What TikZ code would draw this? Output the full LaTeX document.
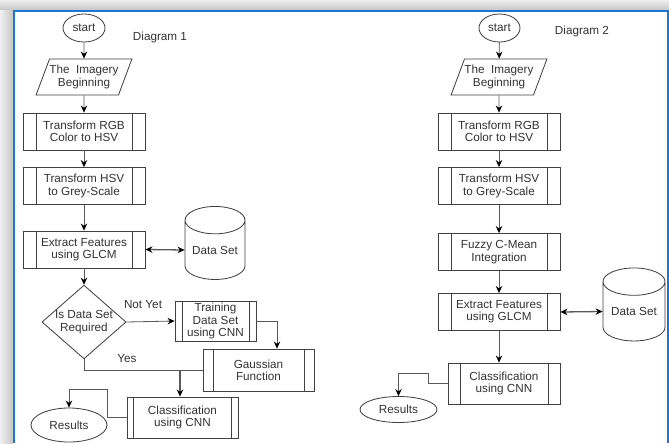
\documentclass[tikz,border=0pt]{standalone}
\usepackage{fontspec}
\setmainfont{Liberation Sans}
\usetikzlibrary{shapes.geometric, arrows.meta}
\definecolor{frameblue}{RGB}{25,118,210}
\tikzset{>={Stealth[length=6pt, width=5.5pt, color=black]}}
\tikzset{
  every node/.style={font=\fontsize{10}{10.5}\selectfont, text=black!80},
  line/.style={draw=black!65, line width=0.7pt},
  proc/.style={draw=black!75, line width=0.7pt, rectangle, align=center, inner sep=1pt,
    minimum width=3.66cm, minimum height=1.11cm,
    path picture={
      \draw[black!75, line width=0.7pt] ([xshift=#1]path picture bounding box.north west) -- ([xshift=#1]path picture bounding box.south west);
      \draw[black!75, line width=0.7pt] ([xshift=-#1]path picture bounding box.north east) -- ([xshift=-#1]path picture bounding box.south east);}},
  proc/.default=0.39cm,
  term/.style={draw=black!75, line width=0.7pt, ellipse, inner sep=0pt},
  inputbox/.style={draw=black!75, line width=0.7pt, trapezium, trapezium left angle=60, trapezium right angle=120,
    trapezium stretches=true, minimum width=2.7cm, minimum height=1.08cm, align=center, inner sep=0pt},
  dbase/.style={draw=black!75, line width=0.7pt, cylinder, shape border rotate=90, aspect=0.6,
    minimum width=1.8cm, minimum height=2.19cm, inner sep=0pt},
  decide/.style={draw=black!75, line width=0.7pt, diamond, aspect=1.14, align=center, inner sep=0pt,
    minimum width=2.4cm, minimum height=2.1cm}
}
\begin{document}
\begin{tikzpicture}[x=0.03cm, y=-0.03cm]
\useasboundingbox (0,0) rectangle (669,443);
% window shadow and frame
\shade [top color=gray!12, bottom color=gray!45] (0,0) rectangle (669,10);
\shade [left color=gray!12, right color=gray!45] (0,10) rectangle (13,443);
\fill [white] (14,11) rectangle (669,443);
\draw [frameblue, line width=1.6pt] (14,443) -- (14,11) -- (668,11) -- (668,443);

% Diagram 1
\node [term, minimum width=1.26cm, minimum height=0.84cm] (st1) at (84,28) {start};
\node at (160,37) {Diagram 1};
\node [inputbox] (img1) at (84,77) {The\ \ Imagery\\Beginning};
\node [proc] (rgb1) at (84,131.5) {Transform RGB\\Color to HSV};
\node [proc] (hsv1) at (84,186) {Transform HSV\\to Grey-Scale};
\node [proc] (glcm1) at (84,249.5) {Extract Features\\using GLCM};
\node [dbase] (ds1) at (215,250) {Data Set};
\node [decide] (dec1) at (84,322) {Is Data Set\\Required};
\node [proc=0.21cm, minimum width=2.43cm, minimum height=1.2cm] (train1) at (215.5,321) {Training\\Data Set\\using CNN};
\node [proc=0.3cm, minimum width=3.33cm, minimum height=1.26cm] (gauss1) at (258.5,370) {Gaussian\\Function};
\node [proc=0.2cm, minimum width=3.33cm, minimum height=1.23cm] (cls1) at (182.5,417.5) {Classification\\using CNN};
\node [term, minimum width=2.28cm, minimum height=1.02cm] (res1) at (69,425) {Results};
\node at (143,305) {Not Yet};
\node at (127,359) {Yes};
\coordinate (j1) at (180,370);
\coordinate (k1) at (107,389);

\draw [line, ->] (st1) -- (img1);
\draw [line, ->] (img1) -- (rgb1);
\draw [line, ->] (rgb1) -- (hsv1);
\draw [line, ->] (hsv1) -- (glcm1);
\draw [line, ->] (glcm1) -- (dec1);
\draw [line, <->, line width=1.1pt] (glcm1.east) -- (ds1.west);
\draw [line, ->] (dec1.east) -- (train1.west);
\draw [line, ->] (train1.east) -| ([xshift=0.555cm]gauss1.north);
\draw [line] (dec1.south) |- (j1);
\draw [line] (gauss1.west) -- (j1);
\draw [line, ->, line width=1pt] (j1) -- (j1 |- cls1.north);
\draw [line, ->] (cls1.west) -| (k1) -| (res1.north);

% Diagram 2
\node [term, minimum width=1.23cm, minimum height=0.84cm] (st2) at (499.5,28) {start};
\node at (582,31) {Diagram 2};
\node [inputbox] (img2) at (499,77) {The\ \ Imagery\\Beginning};
\node [proc] (rgb2) at (499,131.5) {Transform RGB\\Color to HSV};
\node [proc] (hsv2) at (499,186) {Transform HSV\\to Grey-Scale};
\node [proc] (fcm2) at (499,252) {Fuzzy C-Mean\\Integration};
\node [proc] (glcm2) at (499,312) {Extract Features\\using GLCM};
\node [dbase, minimum width=1.86cm] (ds2) at (634,311.5) {Data Set};
\node [proc=0.36cm, minimum width=3.36cm, minimum height=1.23cm] (cls2) at (504,383.5) {Classification\\using CNN};
\node [term, minimum width=2.31cm, minimum height=0.78cm] (res2) at (398.5,409.5) {Results};
\coordinate (k2) at (428,373);

\draw [line, ->] (st2) -- (img2);
\draw [line, ->] (img2) -- (rgb2);
\draw [line, ->] (rgb2) -- (hsv2);
\draw [line, ->] (hsv2) -- (fcm2);
\draw [line, ->] (fcm2) -- (glcm2);
\draw [line, <->, line width=1.1pt] (glcm2.east) -- (ds2.west);
\draw [line, ->] (glcm2.south) -- (glcm2.south |- cls2.north);
\draw [line, ->] (cls2.west) -| (k2) -| (res2.north);
\end{tikzpicture}
\end{document}
